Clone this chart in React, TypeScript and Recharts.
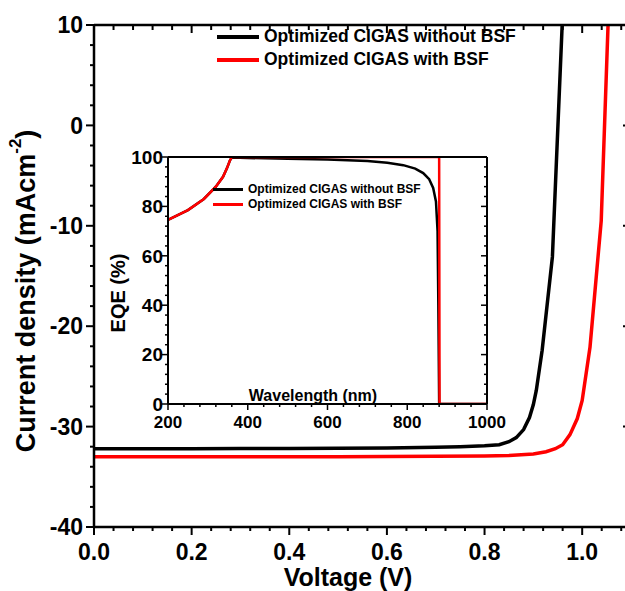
import React from 'react';
import { LineChart, Line, XAxis, YAxis, Legend } from 'recharts';

const FONT = "Arial, 'Liberation Sans', Helvetica, sans-serif";

// ---- Main J-V data ----
const voltageWithoutBSF = [0, 0.1, 0.2, 0.3, 0.4, 0.5, 0.6, 0.7, 0.75, 0.8, 0.83, 0.85, 0.865, 0.88, 0.892, 0.9, 0.906, 0.918, 0.939, 0.959];
const currentWithoutBSF = [-32.2, -32.2, -32.2, -32.19, -32.18, -32.16, -32.13, -32.06, -32.0, -31.9, -31.8, -31.5, -31.1, -30.3, -29.1, -27.8, -26.4, -22.4, -13.1, 10];
const voltageWithBSF = [0, 0.1, 0.2, 0.3, 0.4, 0.5, 0.6, 0.7, 0.8, 0.85, 0.9, 0.926, 0.945, 0.96, 0.975, 0.99, 1.0, 1.016, 1.039, 1.053];
const currentWithBSF = [-33.0, -33.0, -33.0, -33.0, -33.0, -33.0, -32.98, -32.96, -32.92, -32.87, -32.72, -32.5, -32.2, -31.8, -30.8, -29.2, -27.4, -22.1, -9.5, 10];

// ---- Inset EQE data ----
const wavelengthWithoutBSF = [200, 250, 290, 320, 338, 348, 355, 360, 400, 500, 600, 700, 750, 790, 820, 840, 855, 865, 872, 876, 878, 880, 1000];
const eqeWithoutBSF = [74.5, 78.5, 83, 88, 92, 95.5, 98.5, 99.8, 99.6, 99.3, 99, 98.4, 97.7, 96.7, 95.3, 93.5, 91, 87.5, 82, 70, 40, 0, 0];
const wavelengthWithBSF = [200, 250, 290, 320, 338, 348, 355, 360, 880, 881, 1000];
const eqeWithBSF = [74.5, 78.5, 83, 88, 92, 95.5, 98.5, 100, 100, 0, 0];

const seriesNames = ['Optimized CIGAS without BSF', 'Optimized CIGAS with BSF'];
const seriesColors = ['#000000', '#ff0000'];

// ---- Ticks ----
const voltageMajor = [0, 0.2, 0.4, 0.6, 0.8, 1.0];
const voltageTicks = Array.from({ length: 28 }, (_, i) => +(i * 0.04).toFixed(2));
const currentMajor = [-40, -30, -20, -10, 0, 10];
const currentTicks = Array.from({ length: 26 }, (_, i) => -40 + i * 2);
const wlMajor = [200, 400, 600, 800, 1000];
const wlTicks = Array.from({ length: 21 }, (_, i) => 200 + i * 40);
const eqeMajor = [0, 20, 40, 60, 80, 100];
const eqeTicks = Array.from({ length: 26 }, (_, i) => i * 4);

const zip = (xs: number[], ys: number[]) => xs.map((x, i) => ({ x, y: ys[i] }));

type TickOpts = {
  side: 'bottom' | 'top' | 'left' | 'right';
  majors: number[];
  label: boolean;
  fontSize: number;
  major: number;
  minor: number;
  width: number;
  gap: number;
  fmt: (v: number) => string;
};

const makeTick = (o: TickOpts) => (props: any) => {
  const { x, y, payload } = props;
  const v = payload.value;
  const isMajor = o.majors.some((m) => Math.abs(m - v) < 1e-6);
  const len = isMajor ? o.major : o.minor;
  let line;
  if (o.side === 'bottom' || o.side === 'top') {
    line = <line x1={x} y1={y} x2={x} y2={y + len} stroke="#000" strokeWidth={o.width} />;
  } else {
    line = <line x1={x - len} y1={y} x2={x} y2={y} stroke="#000" strokeWidth={o.width} />;
  }
  let text = null;
  if (o.label && isMajor) {
    if (o.side === 'bottom') {
      text = (
        <text x={x} y={y + o.gap} textAnchor="middle" fontFamily={FONT} fontWeight="bold" fontSize={o.fontSize} fill="#000">
          {o.fmt(v)}
        </text>
      );
    } else if (o.side === 'left') {
      text = (
        <text x={x - o.gap} y={y + o.fontSize * 0.36} textAnchor="end" fontFamily={FONT} fontWeight="bold" fontSize={o.fontSize} fill="#000">
          {o.fmt(v)}
        </text>
      );
    }
  }
  return (
    <g>
      {line}
      {text}
    </g>
  );
};

const LegendBox = ({ fontSize, rowH, lineW, thick, gap }: { fontSize: number; rowH: number; lineW: number; thick: number; gap: number }) => (
  <div style={{ fontFamily: FONT, fontWeight: 'bold', fontSize, color: '#000', whiteSpace: 'nowrap' }}>
    {seriesNames.map((n, i) => (
      <div key={n} style={{ display: 'flex', alignItems: 'center', height: rowH }}>
        <div style={{ width: lineW, height: thick, background: seriesColors[i], marginRight: gap }} />
        <span>{n}</span>
      </div>
    ))}
  </div>
);

const MainYLabel = (props: any) => {
  const vb = props.viewBox;
  const cx = vb.x + 26;
  const cy = vb.y + 266;
  return (
    <text transform={`translate(${cx},${cy}) rotate(-90)`} textAnchor="middle" fontFamily={FONT} fontWeight="bold" fontSize={27} fill="#000" dominantBaseline="central">
      Current density (mAcm
      <tspan fontSize={17} dy={-11}>-2</tspan>
      <tspan dy={11}>)</tspan>
    </text>
  );
};

const MainXLabel = (props: any) => {
  const vb = props.viewBox;
  return (
    <text x={vb.x + 254} y={vb.y + 59} textAnchor="middle" fontFamily={FONT} fontWeight="bold" fontSize={25} fill="#000">
      Voltage (V)
    </text>
  );
};

const InsetYLabel = (props: any) => {
  const vb = props.viewBox;
  const cx = vb.x + 18;
  const cy = vb.y + 136;
  return (
    <text transform={`translate(${cx},${cy}) rotate(-90)`} textAnchor="middle" fontFamily={FONT} fontWeight="bold" fontSize={20} fill="#000" dominantBaseline="central">
      EQE (%)
    </text>
  );
};

const InsetXLabel = (props: any) => {
  const vb = props.viewBox;
  return (
    <text x={vb.x + 145} y={vb.y - 3} textAnchor="middle" fontFamily={FONT} fontWeight="bold" fontSize={16} fill="#000">
      Wavelength (nm)
    </text>
  );
};

export default function App() {
  const mainW = 660;
  const mainH = 591;
  const axisW = 2.5;
  const fmtV = (v: number) => v.toFixed(1);
  const fmtI = (v: number) => String(v);
  return (
    <div style={{ position: 'absolute', left: 0, top: 0, width: 625, height: 591, overflow: 'hidden', background: '#fff' }}>
      <div style={{ position: 'absolute', left: 0, top: 0 }}>
        <LineChart width={mainW} height={mainH} margin={{ top: 24, right: 28, left: 0, bottom: 0 }}>
          <XAxis
            xAxisId={0}
            type="number"
            dataKey="x"
            domain={[0, 1.1]}
            allowDataOverflow
            ticks={voltageTicks}
            interval={0}
            height={64}
            tickSize={0}
            tickMargin={0}
            tickLine={false}
            axisLine={{ stroke: '#000', strokeWidth: axisW }}
            tick={makeTick({ side: 'bottom', majors: voltageMajor, label: true, fontSize: 23, major: 8, minor: 4, width: 2, gap: 33, fmt: fmtV })}
            label={<MainXLabel />}
          />
          <XAxis
            xAxisId="top"
            orientation="top"
            type="number"
            dataKey="x"
            domain={[0, 1.1]}
            allowDataOverflow
            ticks={voltageTicks}
            interval={0}
            height={1}
            tickSize={0}
            tickMargin={0}
            tickLine={false}
            axisLine={{ stroke: '#000', strokeWidth: axisW }}
            tick={makeTick({ side: 'top', majors: voltageMajor, label: false, fontSize: 23, major: 8, minor: 5, width: 2, gap: 0, fmt: fmtV })}
          />
          <YAxis
            yAxisId={0}
            type="number"
            dataKey="y"
            domain={[-40, 10]}
            allowDataOverflow
            ticks={currentTicks}
            interval={0}
            width={94}
            tickSize={0}
            tickMargin={0}
            tickLine={false}
            axisLine={{ stroke: '#000', strokeWidth: axisW }}
            tick={makeTick({ side: 'left', majors: currentMajor, label: true, fontSize: 23, major: 8, minor: 4, width: 2, gap: 11, fmt: fmtI })}
            label={<MainYLabel />}
          />
          <YAxis
            yAxisId="right"
            orientation="right"
            type="number"
            domain={[-40, 10]}
            allowDataOverflow
            ticks={currentTicks}
            interval={0}
            width={1}
            tickSize={0}
            tickMargin={0}
            tickLine={false}
            axisLine={{ stroke: '#000', strokeWidth: axisW }}
            tick={makeTick({ side: 'right', majors: currentMajor, label: false, fontSize: 23, major: 8, minor: 4, width: 2, gap: 0, fmt: fmtI })}
          />
          <Line
            data={zip(voltageWithoutBSF, currentWithoutBSF)}
            dataKey="y"
            name={seriesNames[0]}
            stroke={seriesColors[0]}
            strokeWidth={3.5}
            dot={false}
            type="linear"
            isAnimationActive={false}
          />
          <Line
            data={zip(voltageWithBSF, currentWithBSF)}
            dataKey="y"
            name={seriesNames[1]}
            stroke={seriesColors[1]}
            strokeWidth={3.5}
            dot={false}
            type="linear"
            isAnimationActive={false}
          />
          <Legend
            layout="vertical"
            align="center"
            verticalAlign="middle"
            wrapperStyle={{ position: 'absolute', left: 217, top: 25, width: 'auto' }}
            content={() => <LegendBox fontSize={17.5} rowH={23} lineW={42} thick={4} gap={5} />}
          />
        </LineChart>
      </div>

      <div style={{ position: 'absolute', left: 100, top: 140 }}>
        <LineChart width={430} height={300} margin={{ top: 16, right: 42, left: 0, bottom: 0 }}>
          <XAxis
            xAxisId={0}
            type="number"
            dataKey="x"
            domain={[200, 1000]}
            allowDataOverflow
            ticks={wlTicks}
            interval={0}
            height={36}
            tickSize={0}
            tickMargin={0}
            tickLine={false}
            axisLine={{ stroke: '#000', strokeWidth: 2 }}
            tick={makeTick({ side: 'bottom', majors: wlMajor, label: true, fontSize: 17, major: 6, minor: 3, width: 1.5, gap: 24, fmt: fmtI })}
            label={<InsetXLabel />}
          />
          <XAxis
            xAxisId="top"
            orientation="top"
            type="number"
            domain={[200, 1000]}
            allowDataOverflow
            ticks={wlTicks}
            interval={0}
            height={1}
            tickSize={0}
            tickMargin={0}
            tickLine={false}
            axisLine={{ stroke: '#000', strokeWidth: 2 }}
            tick={makeTick({ side: 'top', majors: wlMajor, label: false, fontSize: 17, major: 6, minor: 3, width: 1.5, gap: 0, fmt: fmtI })}
          />
          <YAxis
            yAxisId={0}
            type="number"
            dataKey="y"
            domain={[0, 100]}
            allowDataOverflow
            ticks={eqeTicks}
            interval={0}
            width={68}
            tickSize={0}
            tickMargin={0}
            tickLine={false}
            axisLine={{ stroke: '#000', strokeWidth: 2 }}
            tick={makeTick({ side: 'left', majors: eqeMajor, label: true, fontSize: 19, major: 6, minor: 3, width: 1.5, gap: 5, fmt: fmtI })}
            label={<InsetYLabel />}
          />
          <YAxis
            yAxisId="right"
            orientation="right"
            type="number"
            domain={[0, 100]}
            allowDataOverflow
            ticks={eqeTicks}
            interval={0}
            width={1}
            tickSize={0}
            tickMargin={0}
            tickLine={false}
            axisLine={{ stroke: '#000', strokeWidth: 2 }}
            tick={makeTick({ side: 'right', majors: eqeMajor, label: false, fontSize: 17, major: 6, minor: 3, width: 1.5, gap: 0, fmt: fmtI })}
          />
          <Line
            data={zip(wavelengthWithoutBSF, eqeWithoutBSF)}
            dataKey="y"
            name={seriesNames[0]}
            stroke={seriesColors[0]}
            strokeWidth={2.5}
            dot={false}
            type="linear"
            isAnimationActive={false}
          />
          <Line
            data={zip(wavelengthWithBSF, eqeWithBSF)}
            dataKey="y"
            name={seriesNames[1]}
            stroke={seriesColors[1]}
            strokeWidth={2.5}
            dot={false}
            type="linear"
            isAnimationActive={false}
          />
          <Legend
            layout="vertical"
            align="center"
            verticalAlign="middle"
            wrapperStyle={{ position: 'absolute', left: 113, top: 41.5, width: 'auto' }}
            content={() => <LegendBox fontSize={12} rowH={15} lineW={30} thick={3} gap={5} />}
          />
        </LineChart>
      </div>
    </div>
  );
}
